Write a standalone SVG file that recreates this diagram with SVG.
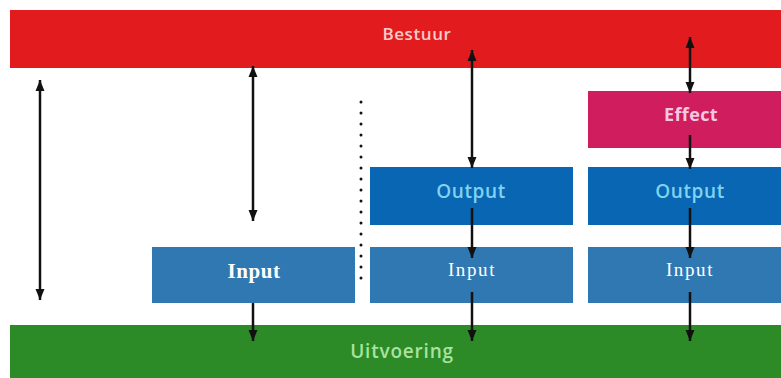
<svg xmlns="http://www.w3.org/2000/svg" width="781" height="378" viewBox="0 0 781 378">
  <style>
    .lbl { font-family: "Open Sans", "Liberation Sans", sans-serif; font-weight: 600; text-anchor: middle; }
    .strong { font-weight: 700; }
    .serif { font-family: "Liberation Serif", "DejaVu Serif", serif; text-anchor: middle; fill: #ffffff; }
    .arrow { stroke: #111111; stroke-width: 2.5; fill: none; marker-end: url(#head); }
    .both { marker-start: url(#head); }
  </style>
  <defs>
    <marker id="head" markerUnits="userSpaceOnUse" markerWidth="12" markerHeight="12" refX="11" refY="6" orient="auto-start-reverse">
      <path d="M0,1.5 L11,6 L0,10.5 Z" fill="#111111"/>
    </marker>
  </defs>
  <rect width="781" height="378" fill="#ffffff"/>

  <g id="bestuur">
    <rect x="10" y="10" width="771" height="58" fill="#e21c1e"/>
    <text class="lbl" x="417" y="40" font-size="17" letter-spacing="0.6" fill="#f8cccc">Bestuur</text>
  </g>

  <g id="uitvoering">
    <rect x="10" y="325" width="771" height="53" fill="#2c8a27"/>
    <text class="lbl" x="402" y="358" font-size="19" letter-spacing="0.8" fill="#a9e39f">Uitvoering</text>
  </g>

  <g id="effect">
    <rect x="588" y="91" width="193" height="57" fill="#d01d5e"/>
    <text class="lbl strong" x="691" y="121" font-size="18" letter-spacing="0.4" fill="#f6c9e2">Effect</text>
  </g>

  <g id="output-1">
    <rect x="370" y="167" width="203" height="58" fill="#0866b2"/>
    <text class="lbl" x="471" y="198" font-size="19" letter-spacing="0.6" fill="#80d2f2">Output</text>
  </g>

  <g id="output-2">
    <rect x="588" y="167" width="193" height="58" fill="#0866b2"/>
    <text class="lbl" x="690" y="198" font-size="19" letter-spacing="0.6" fill="#80d2f2">Output</text>
  </g>

  <g id="input-1">
    <rect x="152" y="247" width="203" height="56" fill="#2f78b1"/>
    <text class="serif" x="254" y="278" font-size="21" font-weight="bold" letter-spacing="0.6">Input</text>
  </g>

  <g id="input-2">
    <rect x="370" y="247" width="203" height="56" fill="#2f78b1"/>
    <text class="serif" x="472" y="276" font-size="19" letter-spacing="1.6">Input</text>
  </g>

  <g id="input-3">
    <rect x="588" y="247" width="193" height="56" fill="#2f78b1"/>
    <text class="serif" x="690" y="276" font-size="19" letter-spacing="1.6">Input</text>
  </g>

  <g id="connectors">
    <line class="arrow both" x1="40" y1="80" x2="40" y2="300"/>
    <line class="arrow both" x1="253" y1="66" x2="253" y2="221"/>
    <line class="arrow both" x1="472" y1="50" x2="472" y2="168"/>
    <line class="arrow both" x1="690" y1="37" x2="690" y2="93"/>
    <line class="arrow" x1="690" y1="135" x2="690" y2="169"/>
    <line class="arrow" x1="472" y1="208" x2="472" y2="258"/>
    <line class="arrow" x1="690" y1="208" x2="690" y2="258"/>
    <line class="arrow" x1="253" y1="303" x2="253" y2="341"/>
    <line class="arrow" x1="472" y1="292" x2="472" y2="341"/>
    <line class="arrow" x1="690" y1="292" x2="690" y2="341"/>
    <line x1="361" y1="102" x2="361" y2="279" stroke="#111111" stroke-width="3" stroke-linecap="round" stroke-dasharray="0 11"/>
  </g>
</svg>
